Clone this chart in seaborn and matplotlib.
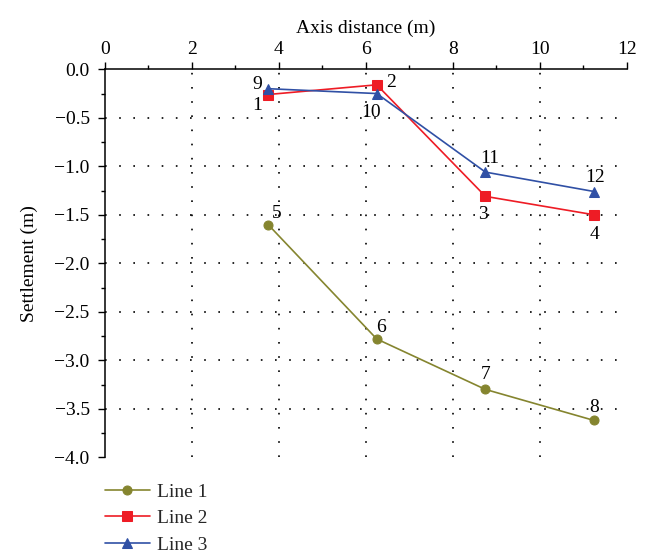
import matplotlib
matplotlib.use("Agg")
import matplotlib.pyplot as plt
from matplotlib.ticker import MultipleLocator, FuncFormatter
import seaborn as sns
import pandas as pd

sns.set_theme(style="white")
plt.rcParams["font.family"] = ["Liberation Serif", "DejaVu Serif"]

# Measurement positions along the axis (m)
distance = [3.75, 6.25, 8.75, 11.25]

# Settlement per survey line (m)
line1 = [-1.60, -2.78, -3.30, -3.62]
line2 = [-0.26, -0.16, -1.31, -1.50]
line3 = [-0.20, -0.25, -1.06, -1.26]

# Point numbers written beside each marker
ids1 = ["5", "6", "7", "8"]
ids2 = ["1", "2", "3", "4"]
ids3 = ["9", "10", "11", "12"]

series_names = ["Line 1", "Line 2", "Line 3"]

fig = plt.figure(figsize=(6.49, 5.53), dpi=100)
ax = fig.add_axes([0.1618, 0.1730, 0.8039, 0.7017])

olive = "#85852f"
red = "#ee1c25"
blue = "#3050a5"

styles = [
    (line1, olive, "o", 6.5),
    (line2, red, "s", 6.5),
    (line3, blue, "^", 7.5),
]
for name, (vals, col, mk, ms) in zip(series_names, styles):
    df = pd.DataFrame({"x": distance, "y": vals})
    sns.lineplot(data=df, x="x", y="y", ax=ax, color=col, marker=mk,
                 markersize=ms, markeredgecolor=col, linewidth=1.2,
                 label=name, sort=False, zorder=3)

# dotted reference grid
grid_kw = dict(color="black", linewidth=1.2, linestyle=(0, (1, 7.5)), zorder=1)
for gx in [2, 4, 6, 8, 10]:
    ax.axvline(gx, **grid_kw)
for gy in [-0.5, -1.0, -1.5, -2.0, -2.5, -3.0, -3.5]:
    ax.axhline(gy, **grid_kw)

# point numbers
fs = 14
offsets1 = [(6, 8), (3, 8), (0, 11), (0, 9)]
offsets2 = [(-8, -8), (10, 2), (-2, -13), (0, -14)]
offsets3 = [(-8, 3), (-4, -14), (3, 10), (1, 10)]
for vals, ids, offs in [(line1, ids1, offsets1), (line2, ids2, offsets2), (line3, ids3, offsets3)]:
    for xv, yv, t, (dx, dy) in zip(distance, vals, ids, offs):
        ax.annotate(t, (xv, yv), xytext=(dx, dy), textcoords="offset points",
                    ha="center", va="center", fontsize=fs, color="black", zorder=4)

ax.set_xlim(0, 12)
ax.set_ylim(-4.0, 0.0)
ax.xaxis.set_major_locator(MultipleLocator(2))
ax.xaxis.set_minor_locator(MultipleLocator(1))
ax.yaxis.set_major_locator(MultipleLocator(0.5))
ax.yaxis.set_minor_locator(MultipleLocator(0.25))
ax.yaxis.set_major_formatter(FuncFormatter(lambda v, p: f"{v:.1f}".replace("-", "\u2212")))
ax.xaxis.tick_top()
ax.xaxis.set_label_position("top")
ax.tick_params(axis="both", which="major", direction="out", length=5, width=1,
               color="black", labelsize=14, labelcolor="black", pad=3)
ax.tick_params(axis="y", which="major", pad=6)
ax.tick_params(axis="both", which="minor", direction="out", length=3, width=1, color="black")
ax.tick_params(axis="x", which="both", bottom=False, top=True)
ax.tick_params(axis="y", which="both", left=True, right=False)

for side in ["right", "bottom"]:
    ax.spines[side].set_visible(False)
for side in ["top", "left"]:
    ax.spines[side].set_color("black")
    ax.spines[side].set_linewidth(1.1)

ax.set_xlabel("Axis distance (m)", fontsize=14, color="black", labelpad=6)
ax.set_ylabel("Settlement (m)", fontsize=14, color="black", labelpad=12)

leg = ax.legend(loc="upper left", bbox_to_anchor=(0.162, 0.126), bbox_transform=fig.transFigure,
                frameon=False, fontsize=14, handlelength=2.3, handletextpad=0.35,
                labelspacing=0.45, borderaxespad=0, borderpad=0, markerscale=1.0)

fig.savefig("out.png", dpi=100, facecolor="white")
